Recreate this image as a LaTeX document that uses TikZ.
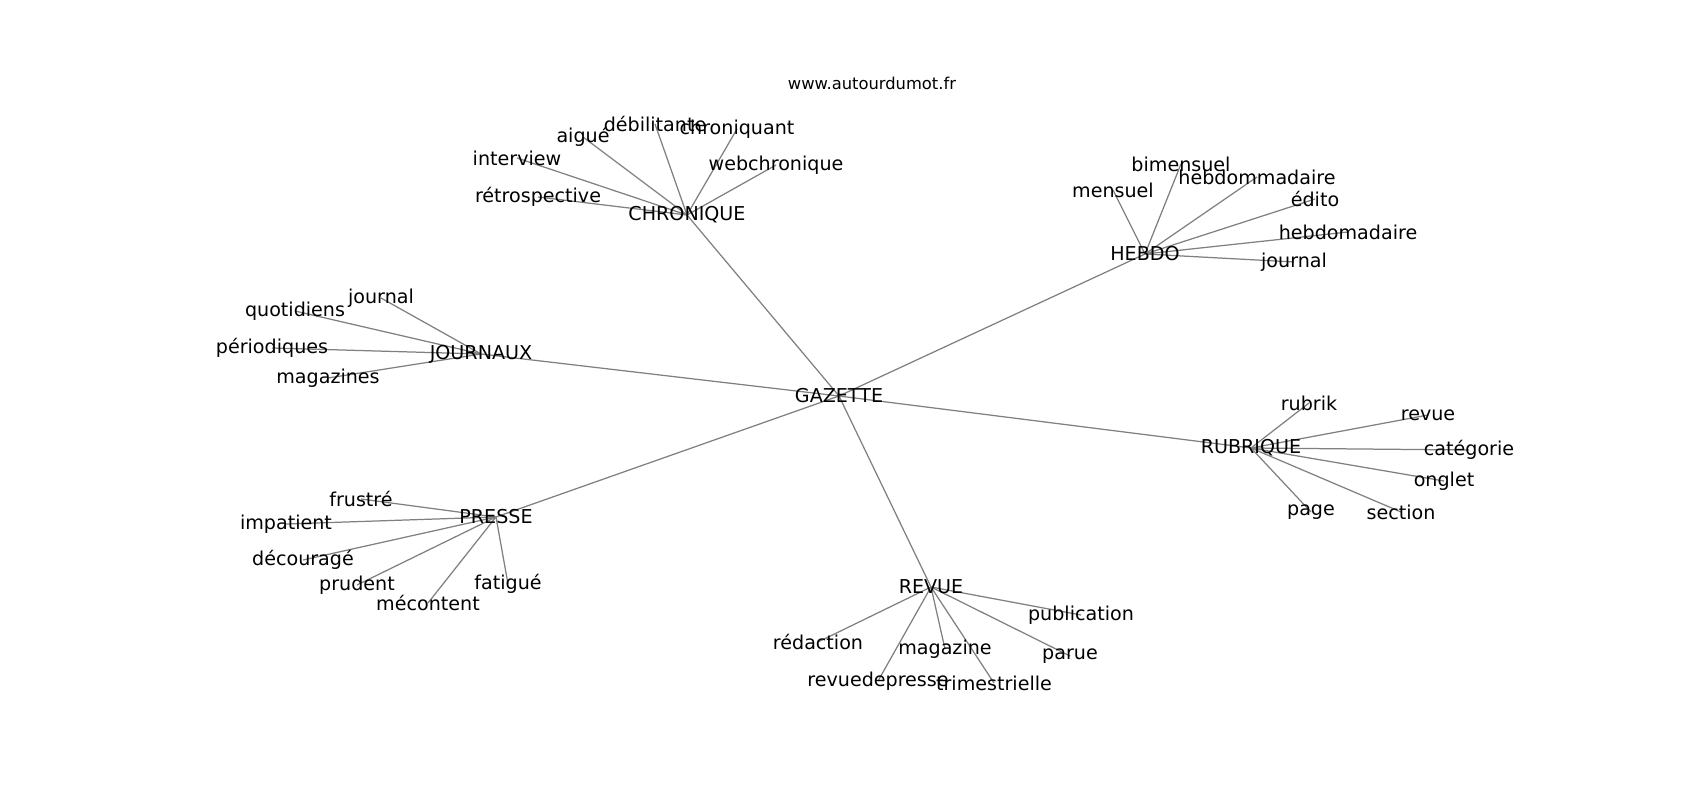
\documentclass[tikz,border=0pt]{standalone}
\usepackage{fontspec}
\setmainfont{DejaVu Sans}
\usetikzlibrary{backgrounds}

\begin{document}
\begin{tikzpicture}[x=0.01in, y=-0.01in,
  word/.style={font=\fontsize{13.8}{16}\selectfont, inner sep=0pt},
  link/.style={draw=gray, line width=0.9pt}]
\useasboundingbox (0,0) rectangle (1700,800);
\node[font=\fontsize{11.8}{14}\selectfont, inner sep=0pt] (site) at (872,83) {www.autourdumot.fr};
% hubs
\node[word] (gazette) at (839,396) {GAZETTE};
\node[word] (chronique) at (687,215) {CHRONIQUE};
\node[word] (hebdo) at (1145,254) {HEBDO};
\node[word] (journaux) at (481,354) {JOURNAUX};
\node[word] (rubrique) at (1251,448) {RUBRIQUE};
\node[word] (presse) at (496,517) {PRESSE};
\node[word] (revue) at (931,587) {REVUE};
% words
\node[word] (debilitante) at (655,124) {débilitante};
\node[word] (chroniquant) at (737,129) {chroniquant};
\node[word] (aigue) at (583,137) {aigué};
\node[word] (interview) at (517,158) {interview};
\node[word] (webchronique) at (776,165) {webchronique};
\node[word] (retrospective) at (538,197) {rétrospective};
\node[word] (bimensuel) at (1181,164) {bimensuel};
\node[word] (hebdommadaire) at (1257,177) {hebdommadaire};
\node[word] (mensuel) at (1113,190) {mensuel};
\node[word] (edito) at (1315,199) {édito};
\node[word] (hebdomadaire) at (1348,232) {hebdomadaire};
\node[word] (hjournal) at (1294,262) {journal};
\node[word] (jjournal) at (381,298) {journal};
\node[word] (quotidiens) at (295,311) {quotidiens};
\node[word] (periodiques) at (272,348) {périodiques};
\node[word] (magazines) at (328,378) {magazines};
\node[word] (rubrik) at (1309,403) {rubrik};
\node[word] (rrevue) at (1428,415) {revue};
\node[word] (categorie) at (1469,450) {catégorie};
\node[word] (onglet) at (1444,481) {onglet};
\node[word] (page) at (1311,512) {page};
\node[word] (section) at (1401,512) {section};
\node[word] (frustre) at (361,499) {frustré};
\node[word] (impatient) at (286,524) {impatient};
\node[word] (decourage) at (303,560) {découragé};
\node[word] (prudent) at (357,585) {prudent};
\node[word] (mecontent) at (428,603) {mécontent};
\node[word] (fatigue) at (508,584) {fatigué};
\node[word] (publication) at (1081,615) {publication};
\node[word] (redaction) at (818,642) {rédaction};
\node[word] (magazine) at (945,649) {magazine};
\node[word] (parue) at (1070,656) {parue};
\node[word] (revuedepresse) at (878,681) {revuedepresse};
\node[word] (trimestrielle) at (994,683) {trimestrielle};
% links
\begin{scope}[on background layer]
\draw[link] (gazette.center) -- (chronique.center);
\draw[link] (gazette.center) -- (hebdo.center);
\draw[link] (gazette.center) -- (journaux.center);
\draw[link] (gazette.center) -- (rubrique.center);
\draw[link] (gazette.center) -- (presse.center);
\draw[link] (gazette.center) -- (revue.center);
\draw[link] (chronique.center) -- (debilitante.center);
\draw[link] (chronique.center) -- (chroniquant.center);
\draw[link] (chronique.center) -- (aigue.center);
\draw[link] (chronique.center) -- (interview.center);
\draw[link] (chronique.center) -- (webchronique.center);
\draw[link] (chronique.center) -- (retrospective.center);
\draw[link] (hebdo.center) -- (bimensuel.center);
\draw[link] (hebdo.center) -- (hebdommadaire.center);
\draw[link] (hebdo.center) -- (mensuel.center);
\draw[link] (hebdo.center) -- (edito.center);
\draw[link] (hebdo.center) -- (hebdomadaire.center);
\draw[link] (hebdo.center) -- (hjournal.center);
\draw[link] (journaux.center) -- (jjournal.center);
\draw[link] (journaux.center) -- (quotidiens.center);
\draw[link] (journaux.center) -- (periodiques.center);
\draw[link] (journaux.center) -- (magazines.center);
\draw[link] (rubrique.center) -- (rubrik.center);
\draw[link] (rubrique.center) -- (rrevue.center);
\draw[link] (rubrique.center) -- (categorie.center);
\draw[link] (rubrique.center) -- (onglet.center);
\draw[link] (rubrique.center) -- (page.center);
\draw[link] (rubrique.center) -- (section.center);
\draw[link] (presse.center) -- (frustre.center);
\draw[link] (presse.center) -- (impatient.center);
\draw[link] (presse.center) -- (decourage.center);
\draw[link] (presse.center) -- (prudent.center);
\draw[link] (presse.center) -- (mecontent.center);
\draw[link] (presse.center) -- (fatigue.center);
\draw[link] (revue.center) -- (publication.center);
\draw[link] (revue.center) -- (redaction.center);
\draw[link] (revue.center) -- (magazine.center);
\draw[link] (revue.center) -- (parue.center);
\draw[link] (revue.center) -- (revuedepresse.center);
\draw[link] (revue.center) -- (trimestrielle.center);
\end{scope}
\end{tikzpicture}
\end{document}
